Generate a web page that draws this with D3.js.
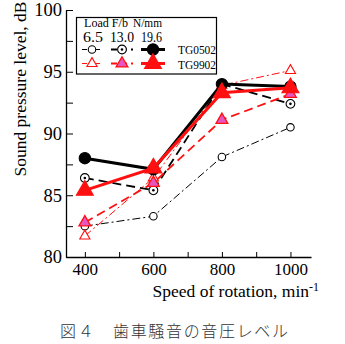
<!DOCTYPE html>
<html><head><meta charset="utf-8">
<script src="https://cdn.jsdelivr.net/npm/d3@7"></script>
<style>body{margin:0;background:#fff}svg{display:block}</style>
</head><body>
<svg id="c" width="345" height="344"></svg>
<script>
const speeds = [400, 600, 800, 1000];
const tg0502_65  = [82.5, 83.3, 88.1, 90.5];
const tg0502_130 = [86.4, 85.4, 94.0, 92.4];
const tg0502_196 = [88.0, 87.1, 94.0, 93.8];
const tg9902_65  = [81.7, 86.4, 93.9, 95.1];
const tg9902_130 = [82.8, 86.0, 91.1, 93.2];
const tg9902_196 = [85.4, 87.2, 93.3, 93.7];
const yTicks = [80, 85, 90, 95, 100];
const xTicks = [400, 600, 800, 1000];
const loads = ["6.5", "13.0", "19.6"];
const gearNames = ["TG0502", "TG9902"];

const svg = d3.select("#c");
const serif = "'Liberation Serif','Times New Roman',serif";
const RED = "#ff1010", PINK = "#e656c0";
const x = d3.scaleLinear().domain([345, 1060]).range([66, 311]);
const y = d3.scaleLinear().domain([80, 100]).range([257, 10]);

// axes
const yAxis = svg.append("g").attr("transform", `translate(${x(345)},0)`)
  .call(d3.axisLeft(y).tickValues(d3.range(80, 100.1, 2.5)).tickSizeInner(-7).tickSizeOuter(0).tickFormat(d => yTicks.includes(d) ? d : ""));
yAxis.select(".domain").attr("stroke-width", 1.3);
yAxis.selectAll("text").attr("x", -4).attr("font-family", serif).attr("font-size", 18.5).attr("fill", "#000");
const xAxis = svg.append("g").attr("transform", `translate(0,${y(80)})`)
  .call(d3.axisBottom(x).tickValues(d3.range(400, 1001, 100)).tickSizeInner(-5).tickSizeOuter(0).tickFormat(d => xTicks.includes(d) ? d : ""));
xAxis.select(".domain").attr("stroke-width", 1.3);
xAxis.selectAll("text").attr("y", 6).attr("font-family", serif).attr("font-size", 17).attr("fill", "#000");

// series
const series = [
  {v: tg0502_65,  color: "#000", w: 1,   dash: "8,3,2,3", sym: "circle", size: 44,  fill: "#fff", dot: false},
  {v: tg9902_65,  color: RED,    w: 1,   dash: "8,3,2,3", sym: "tri",    size: 45,  fill: "#fff", dot: false},
  {v: tg0502_130, color: "#000", w: 1.8, dash: "9,5",     sym: "circle", size: 60,  fill: "#fff", dot: true},
  {v: tg9902_130, color: RED,    w: 1.8, dash: "9,5",     sym: "tri",    size: 60,  fill: PINK,   dot: false},
  {v: tg0502_196, color: "#000", w: 3,   dash: null,      sym: "circle", size: 100, fill: "#000", dot: false},
  {v: tg9902_196, color: RED,    w: 3,   dash: null,      sym: "tri",    size: 125, fill: RED,    dot: false}
];
const line = d3.line().x((d, i) => x(speeds[i])).y(d => y(d));
function marker(g, s, cx, cy) {
  const type = s.sym === "circle" ? d3.symbolCircle : d3.symbolTriangle;
  g.append("path").attr("d", d3.symbol().type(type).size(s.size)())
    .attr("transform", `translate(${cx},${cy})`)
    .attr("fill", s.fill).attr("stroke", s.color).attr("stroke-width", s.sym === "tri" && s.fill === PINK ? 1.3 : 1.1);
  if (s.dot) g.append("circle").attr("cx", cx).attr("cy", cy).attr("r", 1.3).attr("fill", s.color);
}
series.forEach(s => {
  const g = svg.append("g");
  g.append("path").attr("d", line(s.v)).attr("fill", "none").attr("stroke", s.color)
    .attr("stroke-width", s.w).attr("stroke-dasharray", s.dash);
  s.v.forEach((d, i) => marker(g, s, x(speeds[i]), y(d)));
});

// legend
const lg = svg.append("g");
lg.append("rect").attr("x", 76.5).attr("y", 17.5).attr("width", 140).attr("height", 56.5)
  .attr("fill", "#fff").attr("stroke", "#000").attr("stroke-width", 1.2);
lg.append("text").attr("x", 84).attr("y", 26.8).attr("font-family", serif).attr("font-size", 13)
  .attr("textLength", 44).attr("lengthAdjust", "spacingAndGlyphs").text("Load F/b");
lg.append("text").attr("x", 133).attr("y", 26.8).attr("font-family", serif).attr("font-size", 13)
  .attr("textLength", 29).attr("lengthAdjust", "spacingAndGlyphs").text("N/mm");
const cols = [[82, 102], [111, 133], [141, 165]];
const numX = [[83, 20], [110, 24], [141, 21]];
loads.forEach((l, i) => lg.append("text").attr("x", numX[i][0]).attr("y", 42)
  .attr("font-family", serif).attr("font-size", 14)
  .attr("textLength", numX[i][1]).attr("lengthAdjust", "spacingAndGlyphs").text(l));
const rows = [49.5, 63.5];
const nameY = [53.9, 68.5];
gearNames.forEach((n, r) => {
  lg.append("text").attr("x", 178).attr("y", nameY[r]).attr("font-family", serif)
    .attr("font-size", 13.2).attr("textLength", 38).attr("lengthAdjust", "spacingAndGlyphs").text(n);
  for (let c = 0; c < 3; c++) {
    const s = series[c * 2 + r];
    lg.append("line").attr("x1", cols[c][0]).attr("x2", cols[c][1]).attr("y1", rows[r]).attr("y2", rows[r])
      .attr("stroke", s.color).attr("stroke-width", s.w).attr("stroke-dasharray", s.dash ? (c === 0 ? "5,3,2,3" : "6,4") : null);
    marker(lg, s, (cols[c][0] + cols[c][1]) / 2, rows[r]);
  }
});

// axis titles
svg.append("text").attr("transform", "translate(26,89) rotate(-90)").attr("text-anchor", "middle")
  .attr("font-family", serif).attr("font-size", 17.5).text("Sound pressure level, dB");
const xt = svg.append("text").attr("x", 152.5).attr("y", 296.5).attr("font-family", serif).attr("font-size", 17.5);
xt.append("tspan").text("Speed of rotation, min");
xt.append("tspan").attr("dy", -6).attr("font-size", 12).text("-1");

// caption
svg.append("text").attr("x", 60).attr("y", 337).attr("font-family", "'Noto Sans CJK JP'")
  .attr("font-size", 16).attr("font-weight", 300).attr("fill", "#333").attr("textLength", 228).attr("lengthAdjust", "spacing")
  .text("図４　歯車騒音の音圧レベル");
</script>
</body></html>
